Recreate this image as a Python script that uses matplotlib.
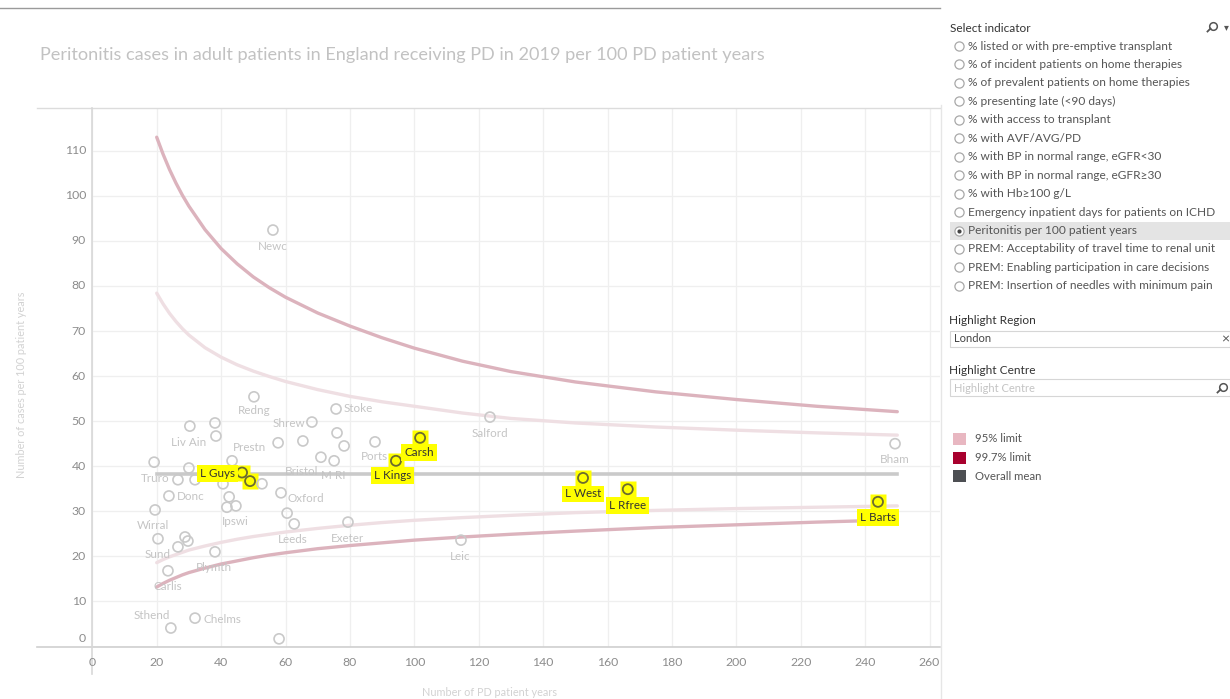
import matplotlib
matplotlib.use("Agg")
import matplotlib.pyplot as plt
from matplotlib.patches import Rectangle
from matplotlib.lines import Line2D

# centres: name, PD patient years, peritonitis per 100 patient years
centre_names = ["Newc", "Redng", "Stoke", "Salford", "Shrew", "Bham", "Liv Ain", "", "",
                "Truro", "", "", "", "", "", "", "L Guys", "", "", "Prestn", "", "", "",
                "Bristol", "M RI", "Ports", "Carsh", "L Kings", "Donc", "Wirral", "",
                "Ipswi", "Oxford", "", "Leeds", "Sund", "", "", "", "Plymth", "Carlis",
                "Chelms", "Sthend", "", "Exeter", "Leic", "L West", "L Rfree", "L Barts"]
centre_x = [56.1, 50.2, 75.7, 123.5, 68.2, 249.3, 30.3, 38.1, 38.4,
            19.2, 30.0, 26.6, 31.9, 40.6, 42.5, 43.4, 46.5, 49.0, 52.7, 57.7, 65.4, 76.0, 78.2,
            71.0, 75.1, 87.8, 101.8, 94.3, 23.8, 19.5, 41.8,
            44.6, 58.6, 60.5, 62.7, 20.4, 28.8, 29.7, 26.6, 38.1, 23.5,
            31.9, 24.4, 58.0, 79.4, 114.5, 152.4, 166.3, 244.0]
centre_y = [92.4, 55.4, 52.7, 50.9, 49.8, 45.0, 48.9, 49.6, 46.7,
            40.9, 39.6, 37.0, 37.0, 36.1, 33.2, 41.2, 38.6, 36.7, 36.1, 45.2, 45.6, 47.4, 44.5,
            42.0, 41.2, 45.4, 46.3, 41.2, 33.4, 30.3, 30.9,
            31.2, 34.1, 29.6, 27.2, 23.9, 24.3, 23.4, 22.1, 21.0, 16.8,
            6.3, 4.1, 1.7, 27.6, 23.6, 37.4, 34.9, 32.1]
# London region (highlighted)
london = [0, 0, 0, 0, 0, 0, 0, 0, 0,
          0, 0, 0, 0, 0, 0, 0, 1, 1, 0, 0, 0, 0, 0,
          0, 0, 0, 1, 1, 0, 0, 0,
          0, 0, 0, 0, 0, 0, 0, 0, 0, 0,
          0, 0, 0, 0, 0, 1, 1, 1]

overall_mean = 38.3

# control limits
limit_x = [20, 22, 24, 26, 28, 30, 35, 40, 45, 50, 55, 60, 70, 80, 90, 100, 115, 130, 150,
           175, 200, 225, 250]
upper_997 = [113.0, 109.2, 105.8, 102.8, 100.1, 97.7, 92.5, 88.3, 84.9, 82.0, 79.6, 77.5,
             74.0, 71.1, 68.5, 66.2, 63.3, 61.0, 58.7, 56.5, 54.8, 53.3, 52.1]
upper_95 = [78.4, 76.0, 73.9, 72.1, 70.5, 69.1, 66.3, 64.2, 62.5, 61.1, 59.9, 58.8,
            57.0, 55.5, 54.3, 53.3, 51.8, 50.6, 49.6, 48.7, 48.0, 47.4, 46.9]
lower_95 = [18.6, 19.3, 19.9, 20.4, 20.9, 21.4, 22.3, 23.1, 23.8, 24.4, 24.9, 25.4,
            26.2, 26.9, 27.5, 28.0, 28.6, 29.1, 29.7, 30.2, 30.6, 30.9, 31.2]
lower_997 = [13.2, 14.0, 14.7, 15.3, 15.9, 16.4, 17.4, 18.3, 19.0, 19.7, 20.3, 20.8,
             21.7, 22.4, 23.0, 23.6, 24.3, 24.9, 25.6, 26.4, 27.0, 27.6, 28.1]

indicators = ["% listed or with pre-emptive transplant",
              "% of incident patients on home therapies",
              "% of prevalent patients on home therapies",
              "% presenting late (<90 days)",
              "% with access to transplant",
              "% with AVF/AVG/PD",
              "% with BP in normal range, eGFR<30",
              "% with BP in normal range, eGFR\u226530",
              "% with Hb\u2265100 g/L",
              "Emergency inpatient days for patients on ICHD",
              "Peritonitis per 100 patient years",
              "PREM: Acceptability of travel time to renal unit",
              "PREM: Enabling participation in care decisions",
              "PREM: Insertion of needles with minimum pain"]
selected = "Peritonitis per 100 patient years"
legend_labels = ["95% limit", "99.7% limit", "Overall mean"]
legend_colors = ["#e8b7c1", "#a8002e", "#4d4f53"]

# label placement, pixel offsets from the mark (dx right, dy down)
label_pos = {"Newc": (0, 16, "center"), "Redng": (0, 14, "center"), "Stoke": (8, 0, "left"),
             "Salford": (0, 16, "center"), "Shrew": (-7, 1, "right"), "Bham": (0, 16, "center"),
             "Liv Ain": (-1, 16, "center"), "Truro": (1, 16, "center"), "L Guys": (-7, 1, "right"),
             "Prestn": (-12, 5, "right"), "Bristol": (-19, 14, "center"), "M RI": (-1, 15, "center"),
             "Ports": (-1, 15, "center"), "Carsh": (-1, 15, "center"), "L Kings": (-3, 15, "center"),
             "Donc": (8, 1, "left"), "Wirral": (-2, 16, "center"), "Ipswi": (-1, 16, "center"),
             "Oxford": (7, 6, "left"), "Leeds": (-1, 16, "center"), "Sund": (0, 16, "center"),
             "Plymth": (-1, 16, "center"), "Carlis": (0, 16, "center"), "Chelms": (8, 1, "left"),
             "Sthend": (-19, -13, "center"), "Exeter": (0, 16, "center"), "Leic": (-1, 16, "center"),
             "L West": (0, 16, "center"), "L Rfree": (0, 16, "center"), "L Barts": (0, 16, "center")}

W, H = 1230, 699
plt.rcParams["font.family"] = ["Lato", "DejaVu Sans"]
fig = plt.figure(figsize=(W / 100, H / 100), dpi=100)


def fx(px):
    return px / W


def fy(py):
    return 1 - py / H


def magnifier(px, py):
    # small search glass drawn as a ring with a handle
    fig.add_artist(Line2D([fx(px + 1)], [fy(py - 1)], marker="o", ms=5.5, mfc="none",
                          mec="#555555", mew=1.1))
    fig.add_artist(Line2D([fx(px - 1.5), fx(px - 4.5)], [fy(py + 1.5), fy(py + 4.5)],
                          color="#555555", lw=1.3))


x0_px, y0_px = 92.3, 646.5
right_px, top_px = 940, 108
xmax = (right_px - x0_px) / 3.22
ymax = (y0_px - top_px) / 4.507

ax = fig.add_axes([fx(x0_px), fy(y0_px), fx(right_px) - fx(x0_px), fy(top_px) - fy(y0_px)])
ax.set_xlim(0, xmax)
ax.set_ylim(0, ymax)
for s in ax.spines.values():
    s.set_visible(False)
ax.set_xticks(range(0, 261, 20))
ax.set_yticks(range(0, 111, 10))
ax.grid(color="#efefef", lw=0.9)
ax.tick_params(length=0, labelleft=False, labelbottom=False)
ax.set_axisbelow(True)

# funnel
ax.plot(limit_x, upper_997, color="#dcb3bd", lw=2.4, solid_capstyle="round", zorder=2)
ax.plot(limit_x, lower_997, color="#dcb3bd", lw=2.4, solid_capstyle="round", zorder=2)
ax.plot(limit_x, upper_95, color="#efdfe3", lw=2.4, solid_capstyle="round", zorder=2)
ax.plot(limit_x, lower_95, color="#efdfe3", lw=2.4, solid_capstyle="round", zorder=2)
ax.plot([limit_x[0], limit_x[-1]], [overall_mean, overall_mean], color="#cacaca", lw=2.6, zorder=2)

# centres
for name, x, y, hl in zip(centre_names, centre_x, centre_y, london):
    if hl:
        ax.plot(x, y, marker="s", ms=12, color="#ffff00", mec="none", zorder=3)
        ax.scatter([x], [y], s=52, facecolors="none", edgecolors="#6b6b30", linewidths=1.3, zorder=4)
    else:
        ax.scatter([x], [y], s=52, facecolors="none", edgecolors="#c9c9c9", linewidths=1.2, zorder=4)
    if name:
        dx, dy, ha = label_pos[name]
        kw = dict(textcoords="offset pixels", xytext=(dx, -dy), ha=ha, va="center",
                  fontsize=8.4, zorder=5, annotation_clip=False)
        if hl:
            ax.annotate(name, (x, y), color="#333333",
                        bbox=dict(boxstyle="square,pad=0.25", fc="#ffff00", ec="none"), **kw)
        else:
            ax.annotate(name, (x, y), color="#c4c4c4", **kw)

# frame lines
fig.add_artist(Line2D([fx(37), fx(940)], [fy(108), fy(108)], color="#dcdcdc", lw=1))
fig.add_artist(Line2D([fx(37), fx(940)], [fy(y0_px), fy(y0_px)], color="#cfcfcf", lw=1.2))
fig.add_artist(Line2D([fx(x0_px), fx(x0_px)], [fy(108), fy(674)], color="#d8d8d8", lw=1.2))
fig.add_artist(Line2D([fx(0), fx(940)], [fy(8), fy(8)], color="#9a9a9a", lw=1))
fig.add_artist(Line2D([fx(941), fx(941)], [fy(105), fy(699)], color="#e6e6e6", lw=1))

# tick labels
for v in range(0, 111, 10):
    py = y0_px - 4.507 * v if v else 638
    fig.text(fx(86), fy(py), str(v), ha="right", va="center", fontsize=8.8, color="#8c8c8c")
for v in range(0, 261, 20):
    fig.text(fx(x0_px + 3.22 * v), fy(662), str(v), ha="center", va="center", fontsize=8.8,
             color="#8c8c8c")

fig.text(fx(22), fy(385), "Number of cases per 100 patient years", rotation=90, ha="center",
         va="center", fontsize=7.8, color="#d2d2d2")
fig.text(fx(490), fy(692), "Number of PD patient years", ha="center", va="center", fontsize=7.8,
         color="#d2d2d2")
fig.text(fx(40), fy(55), "Peritonitis cases in adult patients in England receiving PD in 2019 per 100 PD patient years",
         ha="left", va="center", fontsize=13.1, color="#c2c2c2")

# right panel
fig.text(fx(950), fy(28), "Select indicator", ha="left", va="center", fontsize=8.5, color="#333333")
magnifier(1212, 27)
fig.text(fx(1226), fy(27), "\u25be", ha="center", va="center", fontsize=7, color="#555555",
         family=["DejaVu Sans"])
for i, lab in enumerate(indicators):
    py = 46 + i * 18.45
    if lab == selected:
        fig.add_artist(Rectangle((fx(950), fy(py + 9)), fx(1230) - fx(950), fy(py - 9) - fy(py + 9),
                                 fc="#e4e4e4", ec="none"))
    fig.add_artist(Line2D([fx(959)], [fy(py)], marker="o", ms=6.6, mfc="white", mec="#a8a8a8",
                          mew=0.9))
    if lab == selected:
        fig.add_artist(Line2D([fx(959)], [fy(py)], marker="o", ms=3.0, mfc="#444444", mec="none"))
    fig.text(fx(968), fy(py), lab, ha="left", va="center", fontsize=8.6, color="#555555")

fig.text(fx(949), fy(321), "Highlight Region", ha="left", va="center", fontsize=8.6, color="#333333")
fig.add_artist(Rectangle((fx(950), fy(347)), fx(1230) - fx(950), fy(331) - fy(347), fc="white",
                         ec="#d6d6d6", lw=0.8))
fig.text(fx(954), fy(339), "London", ha="left", va="center", fontsize=8, color="#444444")
fig.text(fx(1225), fy(339), "\u00d7", ha="center", va="center", fontsize=10, color="#555555")
fig.text(fx(949), fy(370), "Highlight Centre", ha="left", va="center", fontsize=8.6, color="#333333")
fig.add_artist(Rectangle((fx(950), fy(396)), fx(1230) - fx(950), fy(379) - fy(396), fc="white",
                         ec="#d6d6d6", lw=0.8))
fig.text(fx(954), fy(388), "Highlight Centre", ha="left", va="center", fontsize=8, color="#c4c4c4")
magnifier(1222, 388)

for i, (lab, col) in enumerate(zip(legend_labels, legend_colors)):
    py = 439 + i * 18.5
    fig.add_artist(Rectangle((fx(953), fy(py + 6)), fx(966) - fx(953), fy(py - 6) - fy(py + 6),
                             fc=col, ec="none"))
    fig.text(fx(975), fy(py), lab, ha="left", va="center", fontsize=8.2, color="#555555")

fig.savefig("out.png", dpi=100)
